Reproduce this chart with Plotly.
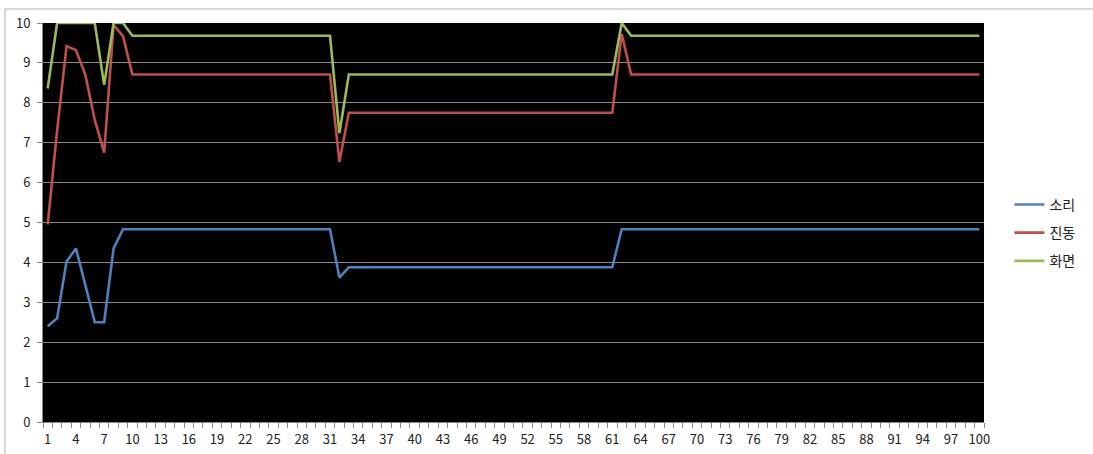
import plotly.graph_objects as go

# 1..100 measurement index
categories = list(range(1, 101))

sound = ([2.4, 2.6, 4.02, 4.35, 3.43, 2.5, 2.5, 4.35] + [4.83] * 23 + [3.62]
         + [3.88] * 29 + [4.83] * 39)
vibration = ([4.95, 7.3, 9.42, 9.32, 8.7, 7.57, 6.75, 9.95, 9.67] + [8.71] * 22 + [6.52]
             + [7.75] * 29 + [9.72] + [8.71] * 38)
screen = ([8.36, 10, 10, 10, 10, 10, 8.45, 10, 10] + [9.68] * 22 + [7.24]
          + [8.71] * 29 + [10] + [9.68] * 38)

series_names = ["소리", "진동", "화면"]
series_values = [sound, vibration, screen]
series_colors = ["#4F81BD", "#C0504D", "#9BBB59"]

x_tick_labels = [str(v) for v in range(1, 101, 3)]
y_tick_values = list(range(0, 11))

fig = go.Figure()
for i, (name, vals, color) in enumerate(zip(series_names, series_values, series_colors)):
    fig.add_trace(go.Scatter(
        x=categories, y=vals, name=name, mode="lines",
        line=dict(color=color, width=2.6),
        legendgroup=f"g{i}",
    ))

font_family = "Noto Sans CJK KR, Noto Sans, sans-serif"

fig.update_layout(
    width=1093, height=454,
    margin=dict(l=43, r=109, t=23, b=32),
    paper_bgcolor="white",
    plot_bgcolor="black",
    font=dict(family=font_family, size=13, color="#222"),
    showlegend=True,
    legend=dict(
        x=1.027, xanchor="left", y=0.474, yanchor="middle",
        font=dict(size=14, color="#222"),
        itemwidth=30, tracegroupgap=7, traceorder="grouped",
        bgcolor="rgba(0,0,0,0)",
    ),
    xaxis=dict(
        range=[0.5, 100.5],
        tickmode="array",
        tickvals=list(range(1, 101, 3)),
        ticktext=x_tick_labels,
        ticks="",
        ticklabelstandoff=5,
        automargin=False,
        showgrid=False,
        zeroline=False,
        showline=True, linecolor="#868686", linewidth=1,
        minor=dict(ticks="outside", tick0=0.5, dtick=1, ticklen=5,
                   tickcolor="#868686", showgrid=False),
        tickfont=dict(size=13, color="#222"),
        fixedrange=True,
    ),
    yaxis=dict(
        range=[0, 10],
        tickvals=y_tick_values,
        ticks="outside", ticklen=5, tickcolor="#868686",
        ticklabelstandoff=4,
        automargin=False,
        showgrid=True, gridcolor="#8a8a8a", gridwidth=1.3,
        zeroline=False,
        showline=True, linecolor="#868686", linewidth=1,
        tickfont=dict(size=13, color="#222"),
        fixedrange=True,
    ),
)

# outer chart-area frame lines (top and left edges)
fig.add_shape(type="line", xref="paper", yref="paper",
              x0=-0.0404, x1=1.2, y0=1.0351, y1=1.0351,
              line=dict(color="#b0b0b0", width=1))
fig.add_shape(type="line", xref="paper", yref="paper",
              x0=-0.0404, x1=-0.0404, y0=-0.1, y1=1.0351,
              line=dict(color="#b0b0b0", width=1))

fig.write_html("out.html")
